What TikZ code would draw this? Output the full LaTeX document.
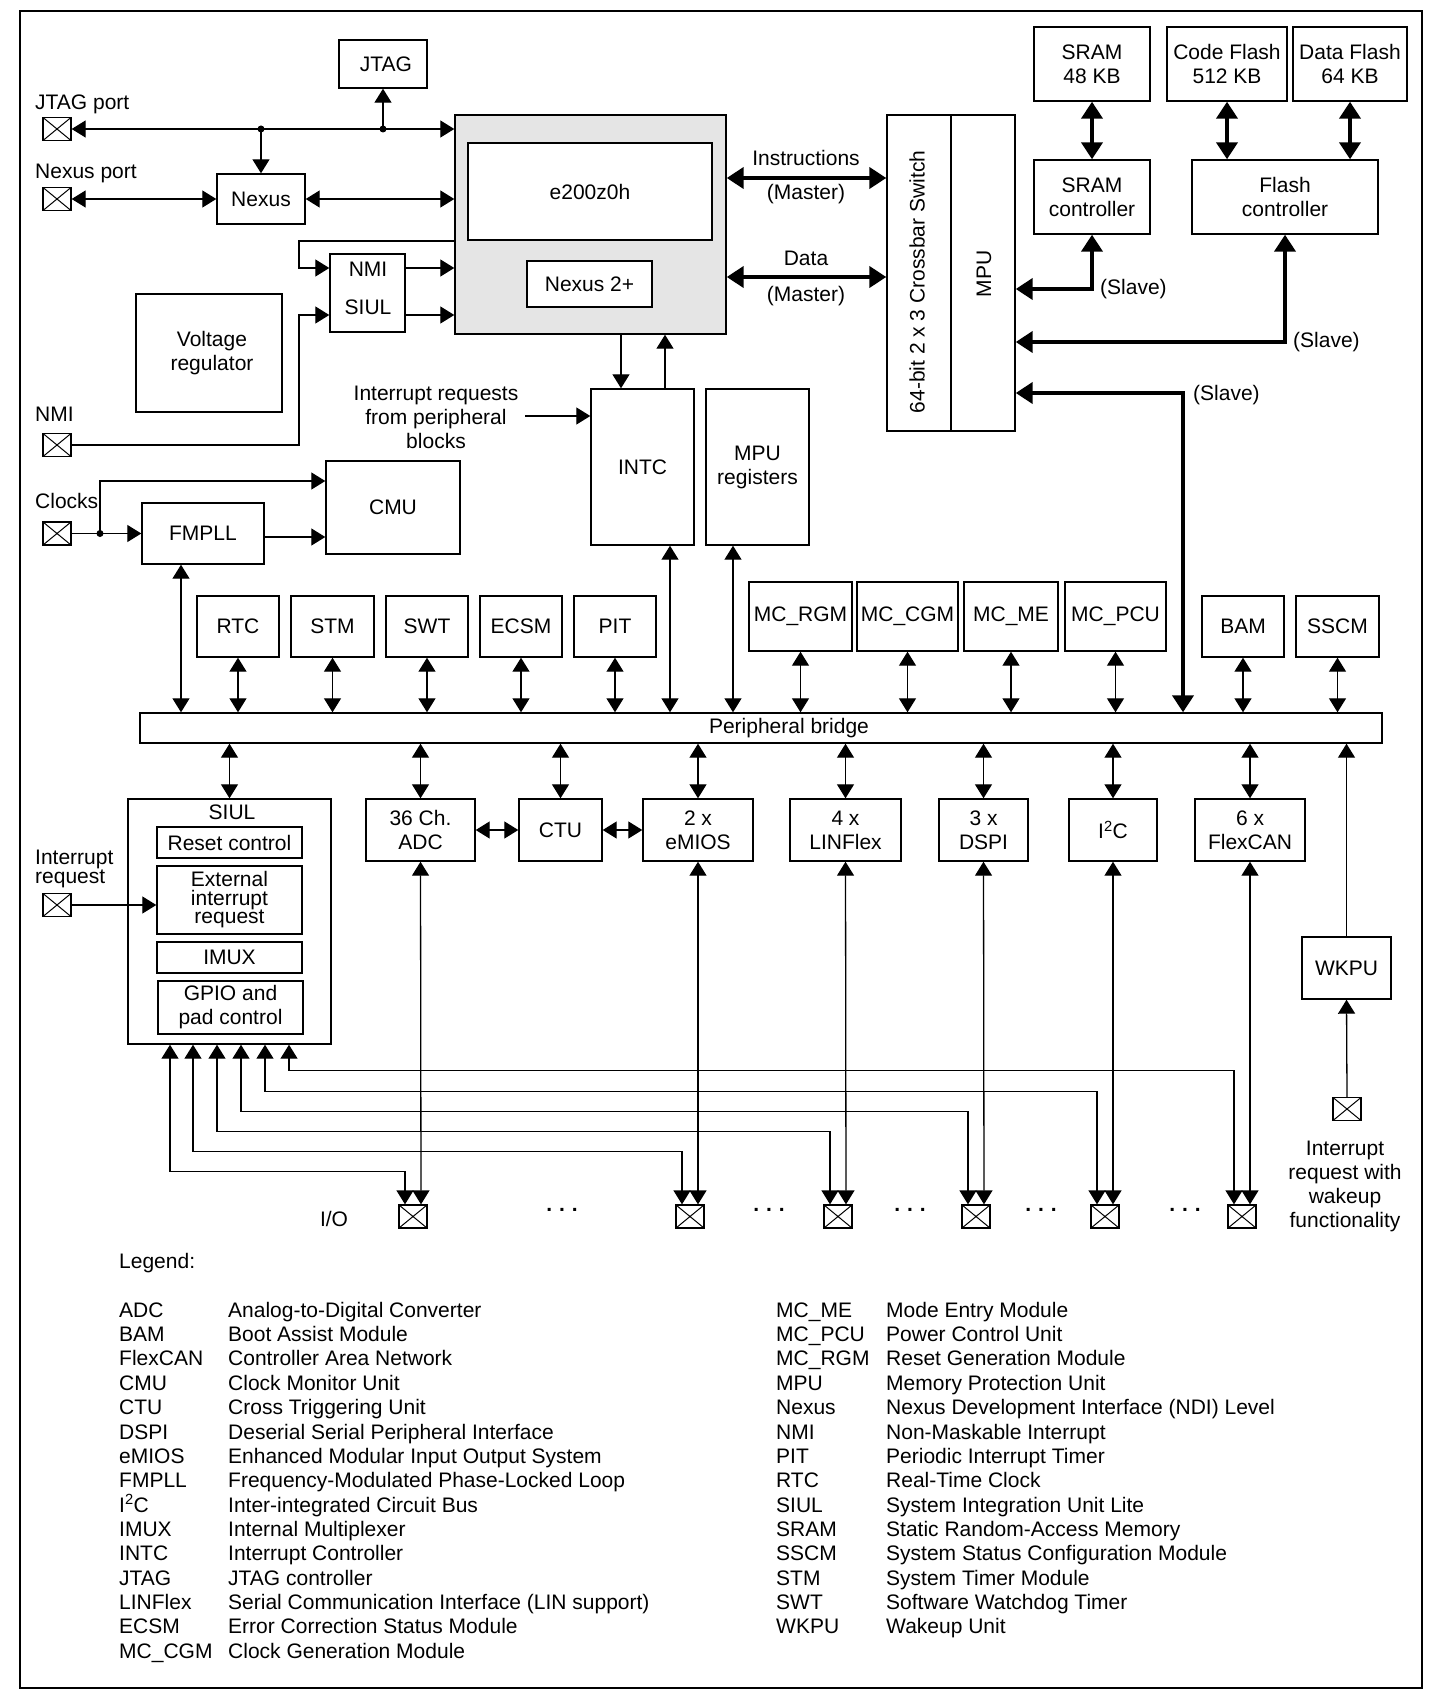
\documentclass[tikz,border=0pt]{standalone}
\usepackage{fontspec}
\setmainfont{Liberation Sans}
\usetikzlibrary{arrows.meta,calc}
\newcommand\fsz{\fontsize{21}{24}\selectfont}
\newcommand\tightfs{\fontsize{21}{18.5}\selectfont}
\newcommand\bx[7][]{\node[box,minimum width={#5-#3},minimum height={#6-#4},#1] (#2) at ({(#3+#5)/2},{(#4+#6)/2}) {#7};}
\tikzset{
  every node/.style={font=\fsz},
  box/.style={draw,line width=1.4pt,align=center,inner sep=2pt},
  lbl/.style={align=center,inner sep=0pt},
  pin/.style={draw,line width=1.3pt,minimum width=28pt,minimum height=23pt,inner sep=0pt,
    path picture={\draw[line width=1pt] (path picture bounding box.north west) -- (path picture bounding box.south east)
      (path picture bounding box.south west) -- (path picture bounding box.north east);}},
  ln/.style={line width=1.3pt},
  a1/.style={line width=1.3pt,-{Triangle[length=14pt,width=17pt]}},
  a2/.style={line width=1.3pt,{Triangle[length=14pt,width=17pt]}-{Triangle[length=14pt,width=17pt]}},
  tk2/.style={line width=4pt,{Triangle[length=17pt,width=21pt]}-{Triangle[length=17pt,width=21pt]}},
}
\begin{document}
\begin{tikzpicture}[x=1pt,y=-1pt]
\useasboundingbox (0,0) rectangle (1446,1704);
\draw[line width=1.5pt] (20,11) rectangle (1422,1688);

% helper coordinates
\foreach \v in {129,178,241,268,277,289,315,342,393,416,481,537}{\coordinate (y\v) at (0,\v);}
\foreach \v in {100,181,299,621,665,670,733,951,1183}{\coordinate (x\v) at (\v,0);}

% ---------- top left ----------
\bx{jtag}{339}{40}{427}{88}{\hspace*{6pt}JTAG}
\bx[fill=gray!20]{core}{455}{115}{726}{334}{}
\bx[fill=white]{e200}{468}{143}{712}{240}{e200z0h}
\bx[fill=white]{nexustwo}{527}{261}{652}{307}{Nexus 2+}
\bx{nexus}{217}{174}{305}{224}{Nexus}
\bx{nmisiul}{330}{254}{405}{332}{}
\node[lbl] (nmitxt) at (368,269) {NMI};
\node[lbl] (siultxt) at (368,307) {SIUL};
\bx{vreg}{136}{294}{282}{412}{\hspace*{6pt}Voltage\\\hspace*{6pt}regulator}
\bx{intc}{591}{389}{694}{545}{INTC}
\bx{mpureg}{706}{389}{809}{545}{MPU\\registers}

\node[pin] (jtagpin) at (57,129) {};
\node[pin] (nexuspin) at (57,199) {};
\node[pin] (nmipin) at (57,445) {};
\node[pin] (clkpin) at (57,533.5) {};
\node[pin] (irqpin) at (57,905) {};

\node[lbl,anchor=west] (jtagportl) at (35,104) {JTAG port};
\node[lbl,anchor=west] (nexusportl) at (35,173) {Nexus port};
\node[lbl,anchor=west] (nmil) at (35,414) {NMI};
\node[lbl,anchor=west] (clkl) at (35,501) {Clocks};
\node[lbl,anchor=west,align=left,font=\tightfs] (irql) at (35,869) {Interrupt\\request};

% ---------- crossbar / memories ----------
\bx{xbar}{887}{115}{1015}{431}{}
\draw[line width=1.4pt] (xbar.north -| x951) -- (xbar.south -| x951);
\node[rotate=90,lbl] (xbartxt) at (917,282) {64-bit 2 x 3 Crossbar Switch};
\node[rotate=90,lbl] (mputxt) at (984,274) {MPU};
\bx{sram}{1034}{27}{1150}{101}{SRAM\\48 KB}
\bx{cflash}{1167}{27}{1287}{101}{Code Flash\\512 KB}
\bx{dflash}{1293}{27}{1407}{101}{Data Flash\\64 KB}
\bx{sramctl}{1034}{160}{1150}{234}{SRAM\\controller}
\bx{flashctl}{1192}{160}{1378}{234}{Flash\\controller}

% ---------- clocks ----------
\bx{cmu}{326}{461}{460}{554}{CMU}
\bx{fmpll}{142}{503}{264}{564}{FMPLL}

% ---------- peripherals top ----------
\bx{rtc}{197}{596}{279}{657}{RTC}
\bx{stm}{291}{596}{374}{657}{STM}
\bx{swt}{386}{596}{468}{657}{SWT}
\bx{ecsm}{480}{596}{562}{657}{ECSM}
\bx{pit}{574}{596}{656}{657}{PIT}
\bx{rgm}{749}{582}{852}{651}{MC\_RGM}
\bx{cgm}{857}{582}{958}{651}{MC\_CGM}
\bx{me}{964}{582}{1058}{651}{MC\_ME}
\bx{pcu}{1065}{582}{1166}{651}{MC\_PCU}
\bx{bam}{1202}{596}{1284}{657}{BAM}
\bx{sscm}{1296}{596}{1379}{657}{SSCM}
\bx{bridge}{140}{713}{1382}{743}{}
\node[lbl] (bridgetxt) at (789,728) {Peripheral bridge};

% ---------- peripherals bottom ----------
\bx{siul}{128}{799}{331}{1044}{}
\node[lbl] (siultitle) at (232,812) {SIUL};
\bx{rst}{157}{827}{302}{858}{Reset control}
\bx[font=\tightfs]{ext}{157}{866}{302}{934}{External\\interrupt\\request}
\bx{imux}{157}{942}{302}{973}{IMUX}
\bx{gpio}{158}{981}{303}{1034}{GPIO and\\pad control}
\bx{adc}{366}{799}{475}{861}{36 Ch.\\ADC}
\bx{ctu}{519}{799}{602}{861}{CTU}
\bx{emios}{643}{799}{753}{861}{2 x\\eMIOS}
\bx{linflex}{790}{799}{901}{861}{4 x\\LINFlex}
\bx{dspi}{939}{799}{1028}{861}{3 x\\DSPI}
\bx{iic}{1069}{799}{1157}{861}{I\textsuperscript{2}C}
\bx{flexcan}{1195}{799}{1305}{861}{6 x\\FlexCAN}
\bx{wkpu}{1302}{937}{1391}{999}{WKPU}

\node[pin] (io1) at (413,1216.5) {};
\node[pin] (io2) at (690,1216.5) {};
\node[pin] (io3) at (838,1216.5) {};
\node[pin] (io4) at (976,1216.5) {};
\node[pin] (io5) at (1105,1216.5) {};
\node[pin] (io6) at (1242,1216.5) {};
\node[pin] (wkpin) at (1347,1109) {};

\node[lbl] (iol) at (334,1219) {I/O};
\foreach \x [count=\i] in {562,769,910,1041,1185}{\node[lbl,font=\bfseries\fsz] (dots\i) at (\x,1210) {.\,\,.\,\,.};}
\node[lbl] (wktxt) at (1345,1186) {Interrupt\\request with\\wakeup\\functionality};

% ---------- connectors: top left ----------
\coordinate (dA) at (nexus.north |- jtagpin);
\coordinate (dB) at (jtag.south |- jtagpin);
\draw[a2] (jtagpin.east) -- (core.west |- jtagpin);
\fill (dA) circle (3.5pt);
\fill (dB) circle (3.5pt);
\draw[a1] (dA) -- (nexus.north);
\draw[a1] (dB) -- (jtag.south);
\draw[a2] (nexuspin.east) -- (nexus.west |- nexuspin);
\draw[a2] (nexus.east) -- (core.west |- nexus.east);
\draw[a1] (nmisiul.east |- y268) -- (core.west |- y268);
\draw[a1] (nmisiul.east |- y315) -- (core.west |- y315);
\draw[a1] (core.west |- y241) -| (x299 |- y268) -- (nmisiul.west |- y268);
\draw[a1] (nmipin.east) -| (x299 |- y315) -- (nmisiul.west |- y315);

\node[lbl] (irqtxt) at (436,417) {Interrupt requests\\from peripheral\\blocks};
\coordinate (irqs) at (525,416);
\draw[a1] (irqs) -- (intc.west |- irqs);
\draw[a1] (core.south -| x621) -- (intc.north -| x621);
\draw[a1] (intc.north -| x665) -- (core.south -| x665);

% ---------- master / slave ----------
\draw[tk2] (core.east |- y178) -- (xbar.west |- y178);
\draw[tk2] (core.east |- y277) -- (xbar.west |- y277);
\node[lbl] (instl) at (806,158) {Instructions};
\node[lbl] (m1l) at (806,194) {(Master)};
\node[lbl] (datal) at (806,258) {Data};
\node[lbl] (m2l) at (806,296) {(Master)};
\draw[tk2] (sram.south) -- (sramctl.north);
\draw[tk2] (cflash.south) -- (flashctl.north -| cflash.south);
\draw[tk2] (dflash.south) -- (flashctl.north -| dflash.south);
\draw[tk2] (sramctl.south) |- (xbar.east |- y289);
\draw[tk2] (flashctl.south) |- (xbar.east |- y342);
\draw[tk2] (xbar.east |- y393) -| (bridge.north -| x1183);
\node[lbl,anchor=west] (s1l) at (1100,289) {(Slave)};
\node[lbl,anchor=west] (s2l) at (1293,342) {(Slave)};
\node[lbl,anchor=west] (s3l) at (1193,395) {(Slave)};

% ---------- clocks ----------
\coordinate (dC) at (x100 |- clkpin);
\draw[a1] (clkpin.east) -- (fmpll.west |- clkpin);
\fill (dC) circle (3.5pt);
\draw[a1] (dC) |- (cmu.west |- y481);
\draw[a1] (fmpll.east |- y537) -- (cmu.west |- y537);
\draw[a2] (fmpll.south -| x181) -- (bridge.north -| x181);

% ---------- bridge ----------
\foreach \n in {rtc,stm,swt,ecsm,pit,rgm,cgm,me,pcu,bam,sscm}{\draw[a2] (\n.south) -- (bridge.north -| \n.south);}
\draw[a2] (intc.south -| x670) -- (bridge.north -| x670);
\draw[a2] (mpureg.south -| x733) -- (bridge.north -| x733);
\foreach \n in {siul,adc,ctu,emios,linflex,dspi,iic,flexcan}{\draw[a2] (bridge.south -| \n.north) -- (\n.north);}
\draw[a2] (adc.east) -- (ctu.west);
\draw[a2] (ctu.east) -- (emios.west);
\draw[a1] (wkpu.north) -- (bridge.south -| wkpu.north);
\draw[a1] (wkpin.north) -- (wkpu.south);
\draw[a1] (irqpin.east) -- (ext.west |- irqpin);

% ---------- I/O ----------
\foreach \n/\p in {adc/io1,emios/io2,linflex/io3,dspi/io4,iic/io5,flexcan/io6}{\draw[a2] (\n.south) -- ([xshift=8pt]\p.north);}
\foreach \x/\d/\p in {170/127/io1,193/107/io2,217/87/io3,241/67/io4,265/47/io5,289/26/io6}{
  \draw[a2] ([xshift=\x pt-229.5pt]siul.south) -- ++(0,\d) -| ([xshift=-8pt]\p.north);}

% ---------- legend ----------
\node[anchor=base west,inner sep=0pt] (legend) at (119,1268) {Legend:};
\foreach \a/\d [count=\i from 0] in {ADC/Analog-to-Digital Converter,BAM/Boot Assist Module,FlexCAN/Controller Area Network,CMU/Clock Monitor Unit,CTU/Cross Triggering Unit,DSPI/Deserial Serial Peripheral Interface,eMIOS/Enhanced Modular Input Output System,FMPLL/Frequency-Modulated Phase-Locked Loop,I\textsuperscript{2}C/Inter-integrated Circuit Bus,IMUX/Internal Multiplexer,INTC/Interrupt Controller,JTAG/JTAG controller,LINFlex/Serial Communication Interface (LIN support),ECSM/Error Correction Status Module,MC\_CGM/Clock Generation Module}{
  \node[anchor=base west,inner sep=0pt] (la\i) at (119,{1317.3+24.34*\i}) {\a};
  \node[anchor=base west,inner sep=0pt] (ld\i) at (228,{1317.3+24.34*\i}) {\d};}
\foreach \a/\d [count=\i from 0] in {MC\_ME/Mode Entry Module,MC\_PCU/Power Control Unit,MC\_RGM/Reset Generation Module,MPU/Memory Protection Unit,Nexus/Nexus Development Interface (NDI) Level,NMI/Non-Maskable Interrupt,PIT/Periodic Interrupt Timer,RTC/Real-Time Clock,SIUL/System Integration Unit Lite,SRAM/Static Random-Access Memory,SSCM/System Status Configuration Module,STM/System Timer Module,SWT/Software Watchdog Timer,WKPU/Wakeup Unit}{
  \node[anchor=base west,inner sep=0pt] (ra\i) at (776,{1317.3+24.34*\i}) {\a};
  \node[anchor=base west,inner sep=0pt] (rd\i) at (886,{1317.3+24.34*\i}) {\d};}
\end{tikzpicture}
\end{document}
